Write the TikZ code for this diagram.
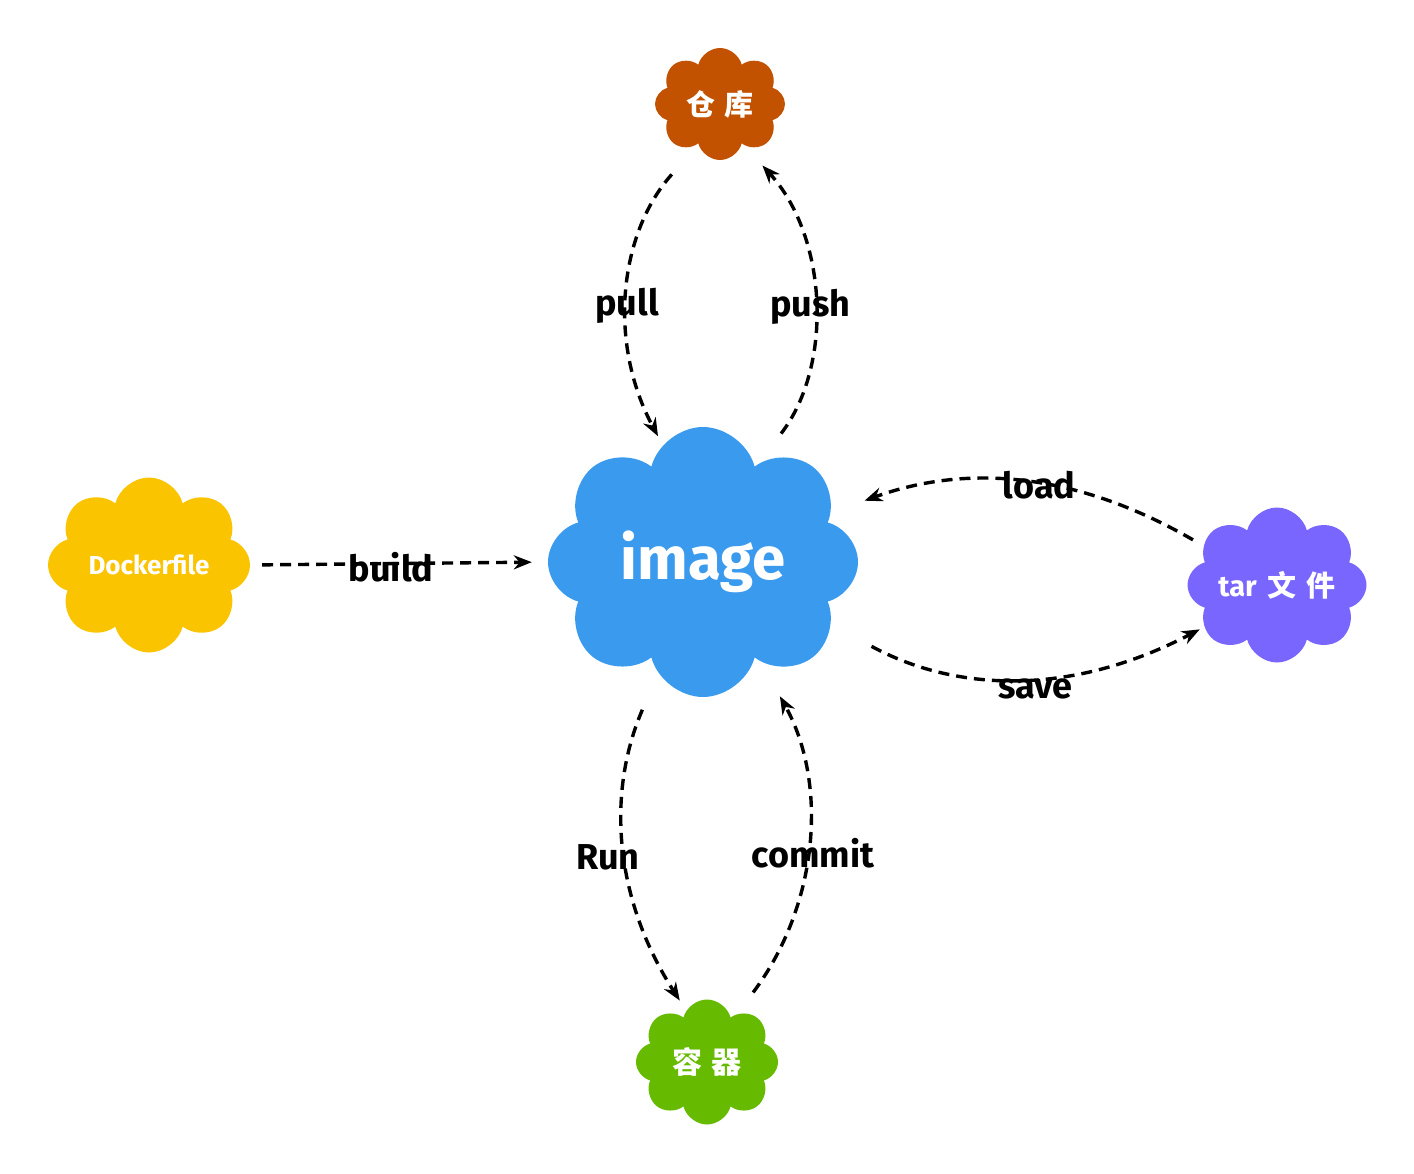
\documentclass[tikz,border=0pt]{standalone}
\usepackage{fontspec}
\setmainfont{Fira Sans}
\newfontfamily\cjkfont{Noto Sans CJK SC}
\usetikzlibrary{shapes.symbols}
\usetikzlibrary{arrows.meta,positioning}
\definecolor{imgblue}{HTML}{3A9AEE}
\definecolor{repoorange}{HTML}{C35200}
\definecolor{dockyellow}{HTML}{FAC400}
\definecolor{tarpurple}{HTML}{7866FF}
\definecolor{contgreen}{HTML}{66BB00}
\tikzset{
  puff/.style={cloud, cloud puffs=8, cloud ignores aspect, draw=none, text=white, inner sep=0pt},
  flow/.style={-{Stealth[length=18pt,width=14pt]}, dash pattern=on 11pt off 7pt, line width=3.4pt},
  lbl/.style={font=\bfseries\fontsize{36}{36}\selectfont, inner sep=0pt, yshift=-12pt}
}

\begin{document}
\begin{tikzpicture}[x=1pt,y=1pt]
  \useasboundingbox (0,0) rectangle (1414,-1174);
  \node[puff, fill=imgblue, minimum width=310pt, minimum height=270pt,
    font=\bfseries\fontsize{60}{60}\selectfont] (image) at (703,-562) {image};
  \node[puff, fill=repoorange, minimum width=130pt, minimum height=112pt,
    font=\cjkfont\bfseries\fontsize{29}{29}\selectfont] (repo) at (720,-104) {仓\hspace{10pt}库};
  \node[puff, fill=dockyellow, minimum width=202pt, minimum height=175pt,
    font=\bfseries\fontsize{26}{26}\selectfont] (docker) at (149,-565) {Dockerfile};
  \node[puff, fill=tarpurple, minimum width=179pt, minimum height=155pt,
    font=\bfseries\fontsize{29}{29}\selectfont] (tar) at (1277,-585) {tar {\cjkfont\hspace{4pt}文\hspace{10pt}件}};
  \node[puff, fill=contgreen, minimum width=142pt, minimum height=125pt,
    font=\cjkfont\bfseries\fontsize{30}{30}\selectfont] (cont) at (707,-1062) {容\hspace{10pt}器};

  \draw[flow, shorten <=40pt, shorten >=10pt] (repo.242) to[bend right=35] node[lbl, xshift=-3pt, yshift=-5pt] (pullLbl) {pull} (image.109);
  \draw[flow, shorten <=40pt, shorten >=28pt] (image.61) to[bend right=40] node[lbl, yshift=8pt] (pushLbl) {push} (repo.300);
  \draw[flow, shorten <=12pt, shorten >=16pt] (docker.0) -- node[lbl, xshift=-8pt, yshift=8pt] (buildLbl) {build} (image.180);
  \draw[flow, shorten <=12pt, shorten >=36pt] (tar.152) to[bend right=25] node[lbl, pos=0.45, yshift=12pt] (loadLbl) {load} (image.21);
  \draw[flow, shorten <=46pt, shorten >=5pt] (image.-26) to[bend right=28] node[lbl, pos=0.55] (saveLbl) {save} (tar.210);
  \draw[flow, shorten <=40pt, shorten >=12pt] (image.248) to[bend right=28] node[lbl, xshift=-18pt] (runLbl) {Run} (cont.112);
  \draw[flow, shorten <=27pt, shorten >=40pt] (cont.58) to[bend right=33] node[lbl, xshift=8pt] (commitLbl) {commit} (image.300);
\end{tikzpicture}
\end{document}
